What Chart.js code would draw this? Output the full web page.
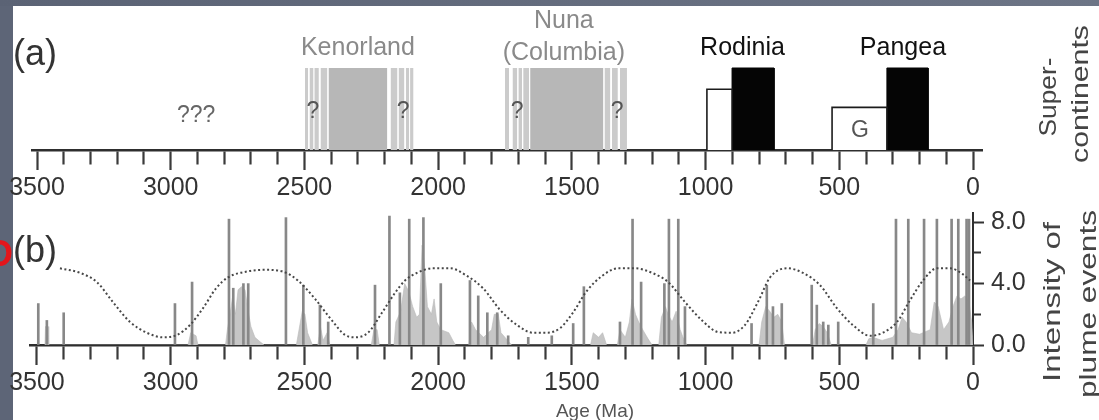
<!DOCTYPE html>
<html><head><meta charset="utf-8">
<script src="https://cdn.jsdelivr.net/npm/chart.js@4.4.1/dist/chart.umd.min.js"></script>
<style>
html,body{margin:0;padding:0;width:1099px;height:420px;overflow:hidden;background:#5d6577;}
#topband{position:absolute;left:0;top:0;width:1099px;height:6px;background:linear-gradient(90deg,#5b6375,#6d7586);}
#paper{position:absolute;left:13px;top:6px;width:1086px;height:414px;background:#fff;}
canvas{position:absolute;left:0;top:0;}
</style></head><body>
<div id="topband"></div>
<div id="paper"></div>
<canvas id="topChart" width="1099" height="420" style="width:1099px;height:420px"></canvas>
<canvas id="botChart" width="1099" height="420" style="width:1099px;height:420px"></canvas>
<script>
// ---------- data ----------
const ageTicks = [3500,3400,3300,3200,3100,3000,2900,2800,2700,2600,2500,2400,2300,2200,2100,2000,1900,1800,1700,1600,1500,1400,1300,1200,1100,1000,900,800,700,600,500,400,300,200,100,0];
const ageMajor = [3500,3000,2500,2000,1500,1000,500,0];
const ageLabels = ['3500','3000','2500','2000','1500','1000','500','0'];
const intensityTicks = [0,2,4,6,8];
const intensityMajor = [0,4,8];
const intensityLabels = ['0.0','4.0','8.0'];

// (a) supercontinents (ages in Ma, heights relative to full block)
const scLabels = ['Kenorland','Nuna','(Columbia)','Rodinia','Pangea'];
const coreStart = [2410, 1656];
const coreEnd   = [2190, 1382];
const stripeStart = [2498,2481,2463,2440, 2178,2148,2121,2105, 1750,1722,1700,1682, 1378,1350,1320];
const stripeEnd   = [2486,2466,2446,2414, 2152,2126,2108,2092, 1735,1704,1686,1660, 1356,1328,1294];
const blackStart = [901, 322];
const blackEnd   = [744, 168];
const openStart  = [995, 527];
const openEnd    = [901, 322];
const openHeight = [0.74, 0.52];
const blockHeight = 1;

// (b) plume events
const spikeAges = [3495,3463,3400,2984,2920,2782,2766,2728,2710,2569,2504,2442,2411,2236,2182,2143,2108,2055,1990,1881,1850,1816,1779,1738,1663,1575,1495,1455,1320,1273,1241,1154,1137,1102,1077,828,771,748,715,603,584,560,541,504,373,288,242,183,135,80,55,24,15];
const spikeValues = [2.7,1.6,2.1,2.7,4.1,8.2,3.7,4.0,4.0,8.3,3.9,2.6,1.5,3.9,8.4,3.4,8.2,8.3,4.0,4.2,3.2,2.1,2.1,0.6,0.5,0.6,1.4,3.8,1.5,8.2,4.1,4.0,8.2,8.2,2.5,1.4,3.9,2.5,2.7,3.9,2.6,1.5,1.3,1.5,2.7,8.2,8.2,8.2,8.2,8.2,8.2,8.2,8.2];
const envAges = [3470,3468,3458,3456, 2935,2925,2905,2898, 2795,2788,2778,2768,2758,2748,2735,2722,2712,2700,2685,2665,2650, 2530,2520,2508,2498,2488,2470, 2450,2440,2430,2415,2405, 2250,2240,2228,2220, 2165,2158,2140,2125,2110,2095,2080,2070,2060,2050,2040,2025,2015,2005,1990,1960,1945,1935, 1885,1875,1860,1830,1800,1790,1775,1765,1740,1725, 1430,1420,1400,1385,1370, 1330,1320,1300,1285,1275,1262,1250,1235,1215,1200, 1175,1165,1150,1140,1125,1110,1095,1080,1070, 800,790,775,760,745,730,715,705, 600,590,575,560,545,530, 400,390,375,340,300,280,265,250,230,200,160,145,130,110,90,75,60,45,30,15,5,0];
const envValues = [0,1.2,1.2,0, 0,0.8,0.6,0, 0,1.0,2.0,3.2,2.0,3.6,3.8,3.6,2.4,1.2,0.5,0.2,0, 0,1.0,2.2,2.0,0.8,0, 0,1.2,0.3,0.8,0, 0,1.0,1.0,0, 0,1.5,2.2,4.0,3.5,2.5,1.8,2.0,6.5,5.0,2.5,2.0,3.0,1.5,1.0,0.8,0.3,0, 0,1.5,1.0,0.5,1.0,2.0,2.0,0.8,0.3,0, 0,0.8,0.5,0.8,0, 0,1.0,0.5,1.5,3.0,2.0,1.5,1.0,0.4,0, 0,1.8,2.5,2.0,1.5,2.2,1.0,0.3,0, 0,1.5,2.5,2.2,1.8,2.0,1.5,0, 0,1.0,1.4,1.2,0.8,0, 0,0.4,0.5,0.3,0.5,1.0,1.8,1.5,0.8,0.7,1.0,2.8,2.5,1.0,1.5,2.5,3.2,3.0,3.2,2.8,1.5,0];
const cycleAges = [3414,3339,3276,3216,3152,3089,3029,2977,2928,2879,2830,2786,2711,2650,2584,2524,2460,2397,2348,2311,2262,2210,2161,2124,2079,2019,1956,1892,1832,1769,1705,1645,1593,1544,1496,1445,1387,1327,1264,1200,1140,1077,1013,954,901,853,804,759,695,636,572,509,449,385,337,284,236,187,135,86,37,11];
const cycleValues = [5.0,4.7,4.1,2.8,1.5,0.8,0.5,0.65,1.3,2.4,3.7,4.4,4.8,4.9,4.8,4.2,3.0,1.6,0.65,0.5,0.8,2.1,3.4,4.2,4.7,5.0,5.0,4.5,3.7,2.3,1.3,0.8,0.8,1.1,2.1,3.5,4.5,5.0,5.0,4.7,4.1,2.8,1.6,0.85,0.8,1.3,2.8,4.4,5.0,4.7,3.9,2.4,1.3,0.6,0.8,1.5,2.9,4.2,5.0,5.0,4.6,4.2];

// ---------- helpers ----------
const FONT = '"Liberation Sans", Arial, sans-serif';
function rect(s, e, h, fill, border, bw) {
  return { type:'line', data:[{x:s,y:0},{x:s,y:h},{x:e,y:h},{x:e,y:0}],
    fill:'origin', backgroundColor:fill, borderColor:border, borderWidth:bw,
    pointRadius:0, tension:0 };
}
function ageScale(min, max, h) {
  return {
    type:'linear', reverse:true, min:min, max:max, offset:false,
    afterBuildTicks(axis){ axis.ticks = ageTicks.map(v => ({value:v})); },
    afterFit(axis){ axis.height = h; },
    grid:{ drawOnChartArea:false, offset:false, tickLength:20, tickWidth:2.2, tickColor:'#3a3a3a',
      tickBorderDash(c){ return (c.tick && ageMajor.indexOf(c.tick.value) >= 0) ? [] : [13, 40]; } },
    border:{ display:true, color:'#2e2e2e', width:2.5 },
    ticks:{ autoSkip:false, maxRotation:0, minRotation:0, padding:3, color:'#333',
      font:{ family:FONT, size:25 },
      callback(v){ const i = ageMajor.indexOf(v); return i >= 0 ? ageLabels[i] : ''; } }
  };
}
function txt(ctx, s, x, y, size, color, align, weight) {
  ctx.save();
  ctx.font = (weight || '') + ' ' + size + 'px ' + FONT;
  ctx.fillStyle = color; ctx.textAlign = align || 'center'; ctx.textBaseline = 'alphabetic';
  ctx.fillText(s, x, y);
  ctx.restore();
}
function vtxt(ctx, s, cx, cy, size, len, color) {
  ctx.save();
  ctx.font = size + 'px ' + FONT;
  const w = ctx.measureText(s).width;
  ctx.translate(cx, cy); ctx.rotate(-Math.PI/2); ctx.scale(len / w, 1);
  ctx.fillStyle = color; ctx.textAlign = 'center'; ctx.textBaseline = 'middle';
  ctx.fillText(s, 0, 0);
  ctx.restore();
}

// ---------- (a) supercontinents ----------
const topSets = [];
stripeStart.forEach((s,i) => topSets.push(rect(s, stripeEnd[i], blockHeight, '#cbcbcb', '#cbcbcb', 0)));
coreStart.forEach((s,i) => topSets.push(rect(s, coreEnd[i], blockHeight, '#b7b7b7', '#b7b7b7', 0)));
openStart.forEach((s,i) => topSets.push(rect(s, openEnd[i], openHeight[i], '#ffffff', '#1c1c1c', 1.6)));
blackStart.forEach((s,i) => topSets.push(rect(s, blackEnd[i], blockHeight, '#050505', '#050505', 1)));

const topText = {
  id:'topText',
  afterDraw(chart) {
    const ctx = chart.ctx, x = chart.scales.x;
    txt(ctx, '(a)', 13, 65, 36, '#333', 'left');
    txt(ctx, scLabels[0], x.getPixelForValue(2300), 55, 25, '#8a8a8a');
    txt(ctx, scLabels[1], x.getPixelForValue(1530), 28, 25, '#8a8a8a');
    txt(ctx, scLabels[2], x.getPixelForValue(1530), 60, 25, '#8a8a8a');
    txt(ctx, scLabels[3], x.getPixelForValue(862), 55, 25, '#111');
    txt(ctx, scLabels[4], x.getPixelForValue(262), 55, 25, '#111');
    txt(ctx, '???', x.getPixelForValue(2905), 122, 23, '#666');
    [2468, 2131, 1705, 1331].forEach(a => txt(ctx, '?', x.getPixelForValue(a), 118, 23, '#555'));
    txt(ctx, 'G', x.getPixelForValue(423), 137, 23, '#555');
    vtxt(ctx, 'Super-', 1049, 97, 24, 79, '#444');
    vtxt(ctx, 'continents', 1081, 94, 24, 138, '#444');
  }
};

new Chart(document.getElementById('topChart'), {
  type:'line',
  data:{ datasets: topSets },
  options:{
    responsive:false, animation:false, events:[],
    layout:{ padding:{ left:32, right:117, top:27, bottom:0 } },
    plugins:{ legend:{display:false}, tooltip:{enabled:false} },
    scales:{ x: ageScale(-33.65, 3518.7, 270), y:{ display:false, min:0, max:1.5 } }
  },
  plugins:[topText]
});

// ---------- (b) plume events ----------
const botText = {
  id:'botText',
  afterDraw(chart) {
    const ctx = chart.ctx;
    txt(ctx, 'D', 13, 266, 36, '#e3151b', 'right', 'bold');
    txt(ctx, '(b)', 13, 262, 36, '#333', 'left');
    txt(ctx, 'Age (Ma)', 595, 417, 19, '#555');
    vtxt(ctx, 'Intensity of', 1053, 302, 24, 160, '#444');
    vtxt(ctx, 'plume events', 1089, 304, 24, 188, '#444');
  }
};

new Chart(document.getElementById('botChart'), {
  type:'line',
  data:{ datasets:[
    { type:'line', label:'cycle', order:0,
      data: cycleAges.map((a,i) => ({x:a, y:cycleValues[i]})),
      borderColor:'#474747', borderWidth:2, borderDash:[2,2.5], pointRadius:0,
      fill:false, cubicInterpolationMode:'monotone' },
    { type:'bar', label:'plumes', order:1,
      data: spikeAges.map((a,i) => ({x:a, y:spikeValues[i]})),
      backgroundColor:'#888888', borderWidth:0, barThickness:2 },
    { type:'line', label:'envelope', order:2,
      data: envAges.map((a,i) => ({x:a, y:envValues[i]})),
      fill:'origin', backgroundColor:'#c6c6c6', borderColor:'#b8b8b8', borderWidth:0.6,
      pointRadius:0, tension:0 }
  ]},
  options:{
    responsive:false, animation:false, events:[],
    layout:{ padding:{ left:30, right:0, top:213, bottom:0 } },
    plugins:{ legend:{display:false}, tooltip:{enabled:false} },
    scales:{
      x: ageScale(0, 3526, 75),
      y: {
        position:'right', min:0, max:8.6,
        afterBuildTicks(axis){ axis.ticks = intensityTicks.map(v => ({value:v})); },
        afterFit(axis){ axis.width = 126; },
        grid:{ drawOnChartArea:false, tickLength:11, tickWidth:2, tickColor:'#333',
          tickBorderDash(c){ return (c.tick && intensityMajor.indexOf(c.tick.value) >= 0) ? [] : [7, 40]; } },
        border:{ display:true, color:'#2e2e2e', width:2 },
        ticks:{ padding:7, color:'#333', font:{ family:FONT, size:25 },
          callback(v){ const i = intensityMajor.indexOf(v); return i >= 0 ? intensityLabels[i] : ''; } }
      }
    }
  },
  plugins:[botText]
});
</script>
</body></html>
